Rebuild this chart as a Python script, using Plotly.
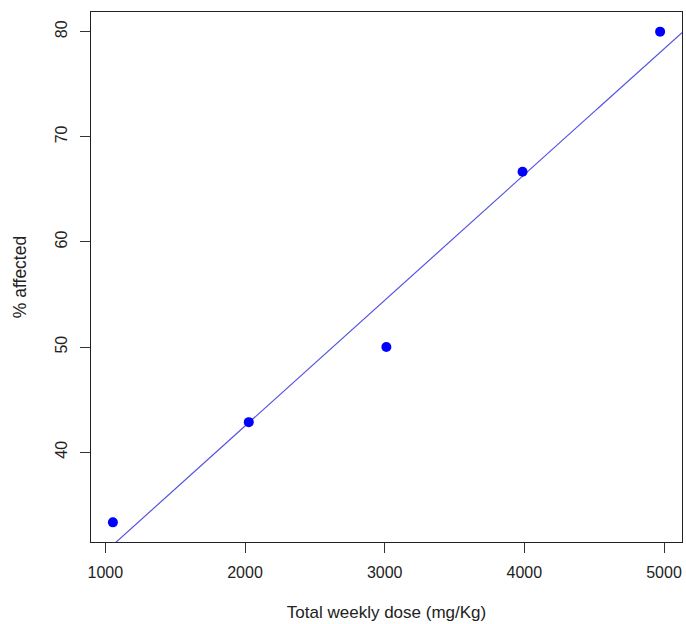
import numpy as np
import plotly.graph_objects as go

# Data
dose = [1054, 2027, 3012, 3987, 4972]          # Total weekly dose (mg/Kg)
affected = [33.33, 42.86, 50.0, 66.67, 80.0]   # % affected
x_ticks = [1000, 2000, 3000, 4000, 5000]
y_ticks = [40, 50, 60, 70, 80]

# R-style axis ranges (4% extension)
xa = np.array(dose, dtype=float)
ya = np.array(affected, dtype=float)
dx = xa.max() - xa.min()
dy = ya.max() - ya.min()
xr = [xa.min() - 0.04 * dx, xa.max() + 0.04 * dx]
yr = [ya.min() - 0.04 * dy, ya.max() + 0.04 * dy]

# least squares fit (abline(lm(y ~ x)))
slope, intercept = np.polyfit(xa, ya, 1)
line_x = np.linspace(xr[0], xr[1], 200)
line_y = intercept + slope * line_x

fig = go.Figure()
fig.add_trace(go.Scatter(x=line_x, y=line_y, mode="lines",
                         line=dict(color="rgb(85,85,225)", width=1.2),
                         hoverinfo="skip", showlegend=False))
fig.add_trace(go.Scatter(x=dose, y=affected, mode="markers",
                         marker=dict(color="#0000FF", size=10),
                         showlegend=False))

FAMILY = "Liberation Sans, Arial, sans-serif"
fig.update_layout(
    width=686, height=624,
    margin=dict(l=91, r=4, t=12, b=82),
    paper_bgcolor="white", plot_bgcolor="white",
    font=dict(family=FAMILY, size=16, color="#222"),
    xaxis=dict(range=xr, tickvals=x_ticks, ticks="outside", ticklen=10,
               tickcolor="#333", tickwidth=1.2, showgrid=False, zeroline=False,
               showline=True, linecolor="#222", linewidth=1.3, mirror=True,
               tickfont=dict(family=FAMILY, size=16, color="#222"),
               title=dict(text="Total weekly dose (mg/Kg)", standoff=25,
                          font=dict(family=FAMILY, size=17, color="#222")),
               ticklabelstandoff=6),
    yaxis=dict(range=yr, tickvals=y_ticks, ticks="outside", ticklen=10,
               tickcolor="#333", tickwidth=1.2, showgrid=False, zeroline=False,
               showline=True, linecolor="#222", linewidth=1.3, mirror=True,
               tickfont=dict(family=FAMILY, size=16, color="#222"),
               tickangle=-90, ticklabelstandoff=6,
               title=dict(text="% affected", standoff=22,
                          font=dict(family=FAMILY, size=17.5, color="#222"))),
)
fig.write_html("out.html", config={"displayModeBar": False},
               post_script="document.body.style.margin='0';"
                           "document.body.style.overflow='hidden';")
